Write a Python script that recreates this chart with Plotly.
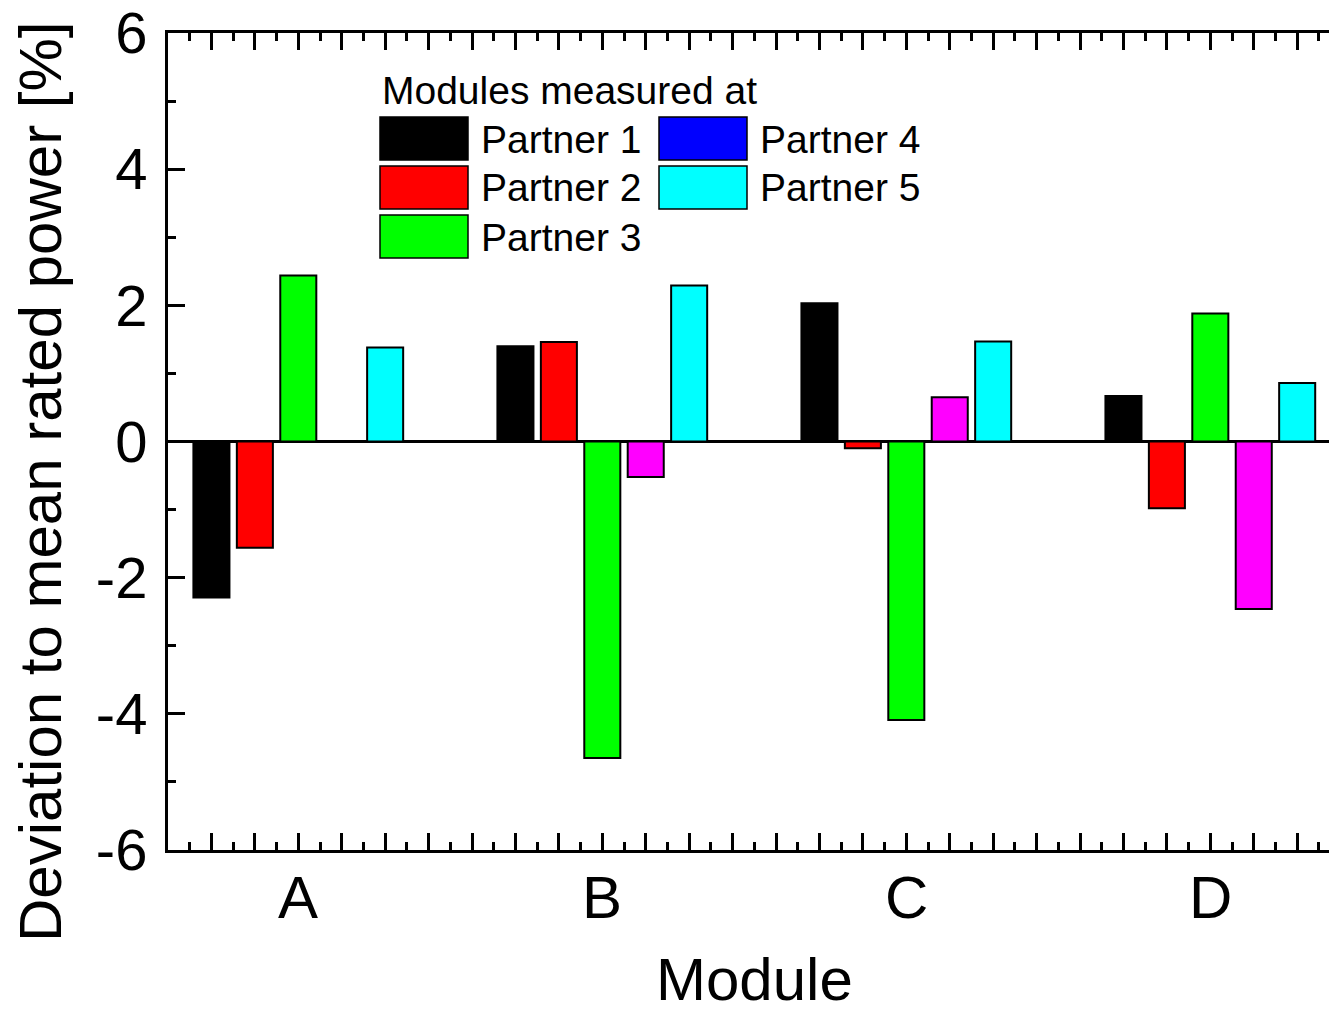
import plotly.graph_objects as go

modules = ["A", "B", "C", "D"]
partners = ["Partner 1", "Partner 2", "Partner 3", "Partner 4", "Partner 5"]
p1 = [-2.29, 1.40, 2.03, 0.67]
p2 = [-1.56, 1.46, -0.10, -0.98]
p3 = [2.44, -4.65, -4.09, 1.88]
p4 = [None, -0.52, 0.65, -2.46]
p5 = [1.38, 2.29, 1.47, 0.86]
series = [p1, p2, p3, p4, p5]
bar_colors = ["#000000", "#FF0000", "#00FF00", "#FF00FF", "#00FFFF"]
legend_colors = ["#000000", "#FF0000", "#00FF00", "#0000FF", "#00FFFF"]
y_ticks = [-6, -4, -2, 0, 2, 4, 6]
y_ticktext = ["-6", "-4", "-2", "0", "2", "4", "6"]

FONT = "Liberation Sans, Arial, sans-serif"
W, H = 1329, 1016
ML, MR, MT, MB = 168, 0, 33, 166
PW, PH = W - ML - MR, H - MT - MB

# module group centres on a numeric axis (each partner occupies one unit slot)
centres = [3 + 7 * i for i in range(len(modules))]

fig = go.Figure()
for name, vals, col in zip(partners, series, bar_colors):
    fig.add_trace(go.Bar(x=centres, y=vals, name=name, marker_color=col,
                         marker_line=dict(color="black", width=2), showlegend=False))

xt = list(range(0, 27))

fig.update_layout(
    width=W, height=H, margin=dict(l=ML, r=MR, t=MT, b=MB),
    paper_bgcolor="white", plot_bgcolor="white",
    barmode="group", bargap=2 / 7, bargroupgap=0.17,
    font=dict(family=FONT, size=58, color="black"),
    xaxis=dict(range=[0, PW / 43.43], tickmode="array", tickvals=xt,
               showticklabels=False,
               ticks="inside", ticklen=17, tickwidth=3, tickcolor="black",
               showline=True, linewidth=3, linecolor="black", mirror="ticks",
               showgrid=False, zeroline=False,
               minor=dict(tickmode="linear", tick0=0.5, dtick=1, ticks="inside",
                          ticklen=8, tickwidth=3, tickcolor="black", showgrid=False)),
    yaxis=dict(range=[-6, 6], tickmode="array", tickvals=y_ticks, ticktext=y_ticktext,
               ticks="inside", ticklen=17, tickwidth=3, tickcolor="black",
               showline=True, linewidth=3, linecolor="black", mirror=False,
               showgrid=False, zeroline=True, zerolinecolor="black", zerolinewidth=3,
               ticklabelstandoff=6, tickfont=dict(size=58),
               minor=dict(tickmode="linear", tick0=-5, dtick=2, ticks="inside",
                          ticklen=8, tickwidth=3, tickcolor="black", showgrid=False)),
    yaxis2=dict(range=[-6, 6], overlaying="y", side="right", anchor="x",
                tickmode="array", tickvals=y_ticks, showticklabels=False,
                ticks="inside", ticklen=7, tickwidth=3, tickcolor="black",
                showline=False, showgrid=False, zeroline=False),
    showlegend=False,
)

def px(x):
    return (x - ML) / PW

def py(y):
    return (H - MB - y) / PH

annotations = [
    dict(text="Module", x=px(754), y=py(1015), xref="paper", yref="paper",
         xanchor="center", yanchor="bottom", showarrow=False, font=dict(size=60)),
    dict(text="Deviation to mean rated power [%]", x=px(40), y=py(482), xref="paper",
         yref="paper", xanchor="center", yanchor="middle", textangle=-90,
         showarrow=False, font=dict(size=60)),
    dict(text="Modules measured at", x=px(380), y=py(91), xref="paper", yref="paper",
         xanchor="left", yanchor="middle", showarrow=False, font=dict(size=39)),
]
for c, m in zip(centres, modules):
    annotations.append(dict(text=m, x=c, xref="x", y=py(897), yref="paper",
                            xanchor="center", yanchor="middle", showarrow=False,
                            font=dict(size=60)))
shapes = []
box_pos = [(380, 117), (380, 166), (380, 215), (659, 117), (659, 166)]
for name, col, (bx, by) in zip(partners, legend_colors, box_pos):
    shapes.append(dict(type="rect", xref="paper", yref="paper",
                       x0=px(bx), x1=px(bx + 88), y0=py(by), y1=py(by + 43),
                       fillcolor=col, line=dict(color="black", width=1.5)))
    annotations.append(dict(text=name, x=px(bx + 99), y=py(by + 22), xref="paper",
                            yref="paper", xanchor="left", yanchor="middle",
                            showarrow=False, font=dict(size=39)))
fig.update_layout(annotations=annotations, shapes=shapes)

fig.write_html("out.html")
